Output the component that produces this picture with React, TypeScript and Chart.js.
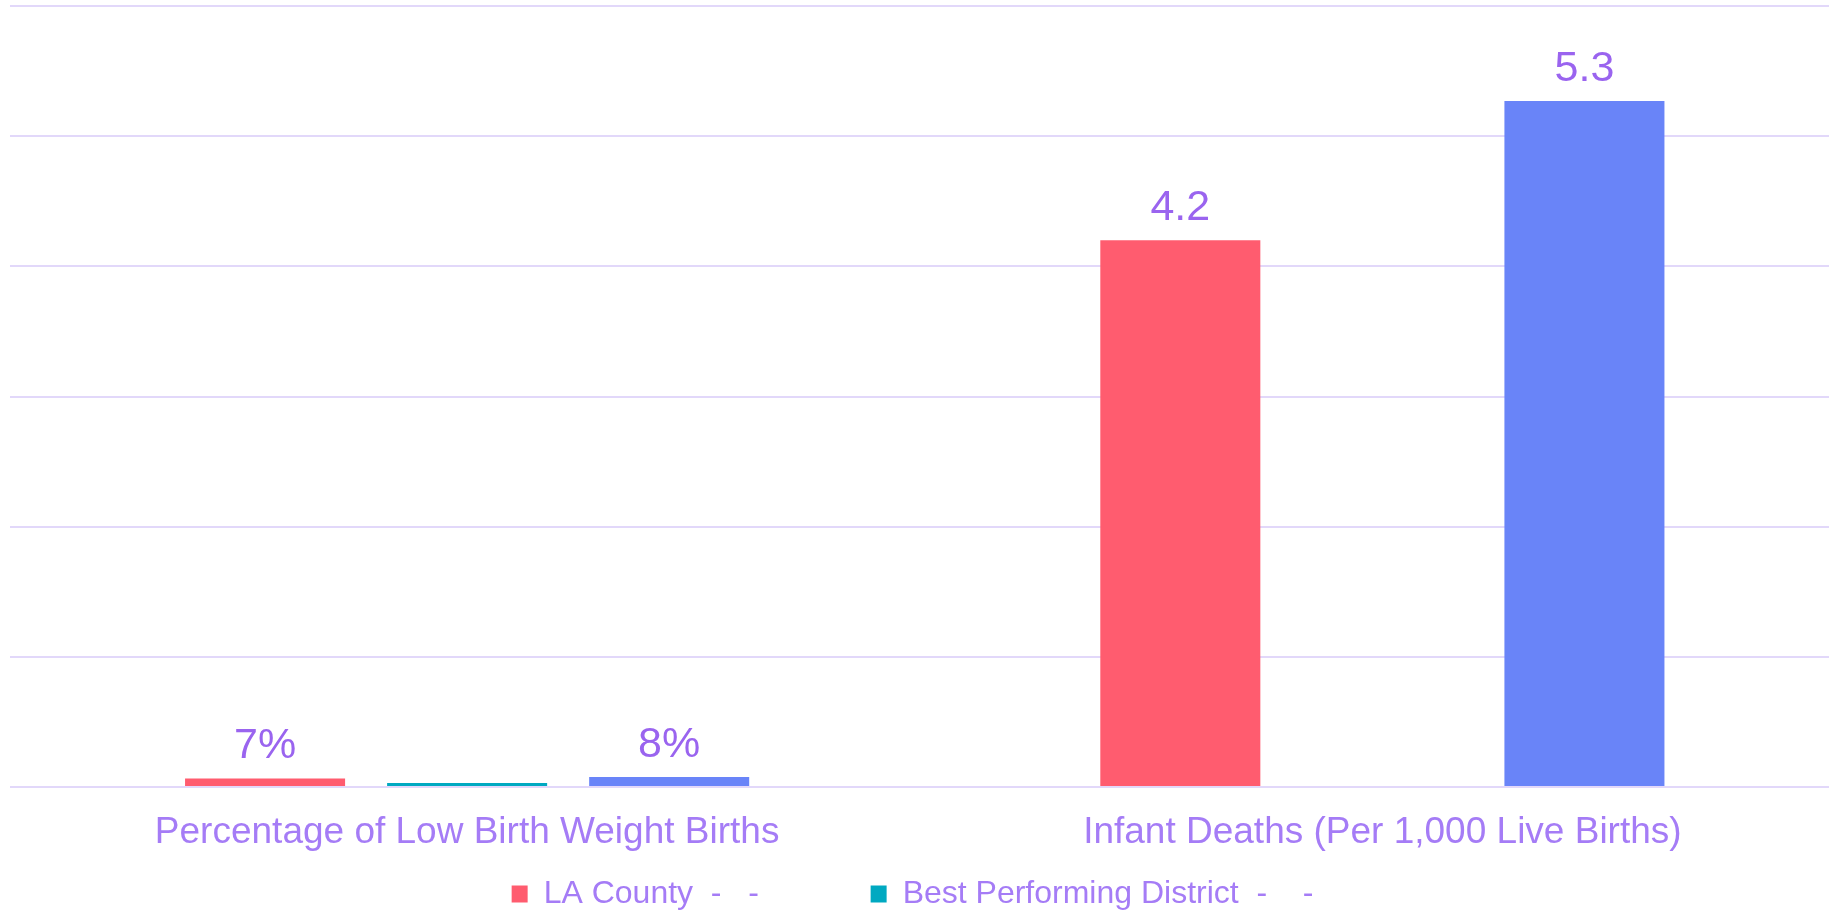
import React, { useEffect, useRef } from "react";
import { Chart, registerables } from "chart.js";

Chart.register(...registerables);

const categories = ["Percentage of Low Birth Weight Births", "Infant Deaths (Per 1,000 Live Births)"];
const laCounty = [0.066, 4.2];
const bestDistrict = [0.031, null];
const selectedDistrict = [0.077, 5.27];
const seriesNames = ["LA County", "Best Performing District", "Selected District"];
const legendSuffix = ["  -   -           ", "  -    -", "  -   -"];
const yTicks = [0, 1, 2, 3, 4, 5, 6];
const labelledSeries = [0, 2];

const FONT = "'Liberation Sans', Arial, sans-serif";
const LABEL_PURPLE = "#9a64ef";
const AXIS_PURPLE = "#a57cf6";
const GRID = "#e2d8fa";

const formatValue = (catIndex: number, v: number) =>
  catIndex === 0 ? `${Math.round(v * 100)}%` : v.toFixed(1);

const valueLabels = {
  id: "valueLabels",
  afterDatasetsDraw(chart: any) {
    const ctx = chart.ctx;
    ctx.save();
    ctx.font = `43px ${FONT}`;
    ctx.fillStyle = LABEL_PURPLE;
    ctx.textAlign = "center";
    ctx.textBaseline = "alphabetic";
    labelledSeries.forEach((di) => {
      const meta = chart.getDatasetMeta(di);
      meta.data.forEach((bar: any, i: number) => {
        const v = chart.data.datasets[di].data[i];
        if (v == null) return;
        ctx.fillText(formatValue(i, v), bar.x, bar.y - 20);
      });
    });
    ctx.restore();
  },
};

export default function App() {
  const canvasRef = useRef<HTMLCanvasElement | null>(null);

  useEffect(() => {
    if (!canvasRef.current) return;
    const chart = new Chart(canvasRef.current, {
      type: "bar",
      data: {
        labels: categories,
        datasets: [
          { label: seriesNames[0], data: laCounty, backgroundColor: "#ff5c6f", borderWidth: 0 },
          { label: seriesNames[1], data: bestDistrict, backgroundColor: "#00a9c1", borderWidth: 0 },
          { label: seriesNames[2], data: selectedDistrict, backgroundColor: "#6984f8", borderWidth: 0 },
        ],
      },
      options: {
        animation: false,
        responsive: true,
        maintainAspectRatio: false,
        layout: { padding: { top: 6, left: 0, right: 0, bottom: 0 } },
        datasets: {
          bar: { categoryPercentage: 0.6623, barPercentage: 0.792 },
        },
        scales: {
          x: {
            grid: { display: false, drawTicks: false },
            border: { display: false },
            ticks: {
              color: AXIS_PURPLE,
              font: { family: FONT, size: 37 },
              padding: 23.5,
              maxRotation: 0,
              autoSkip: false,
            },
            afterFit: (scale: any) => {
              scale.height = 77;
            },
          },
          y: {
            min: 0,
            max: 6,
            afterBuildTicks: (scale: any) => {
              scale.ticks = yTicks.map((v) => ({ value: v }));
            },
            grid: { color: GRID, lineWidth: 2, drawTicks: false },
            border: { display: false },
            ticks: { display: false },
            afterFit: (scale: any) => {
              scale.width = 24.5;
            },
          },
        },
        plugins: {
          tooltip: { enabled: false },
          legend: {
            position: "bottom",
            labels: {
              color: AXIS_PURPLE,
              font: { family: FONT, size: 32 },
              boxWidth: 16,
              boxHeight: 17,
              padding: 14,
              generateLabels: (ch: any) => {
                const items = Chart.defaults.plugins.legend.labels.generateLabels(ch);
                return items
                  .filter((it: any) => it.datasetIndex !== 2)
                  .map((it: any) => ({ ...it, text: it.text + legendSuffix[it.datasetIndex], lineWidth: 0 }));
              },
            },
          },
        },
      },
      plugins: [valueLabels],
    } as any);
    return () => chart.destroy();
  }, []);

  return (
    <div
      style={{
        position: "fixed",
        left: 0,
        top: 0,
        width: 1829,
        height: 912,
        overflow: "hidden",
        background: "#ffffff",
      }}
    >
      <div style={{ position: "absolute", left: -15, top: 0, width: 1855, height: 920 }}>
        <canvas ref={canvasRef} />
      </div>
    </div>
  );
}
